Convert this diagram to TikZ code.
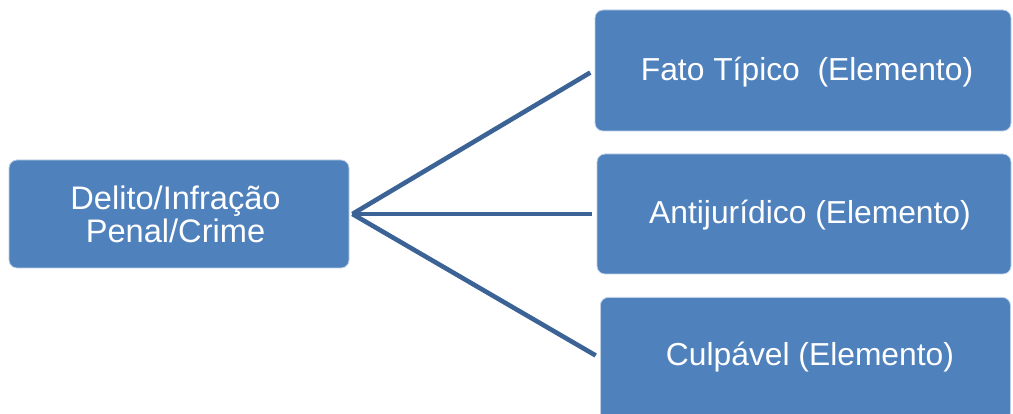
\documentclass[tikz,border=0pt]{standalone}
\usepackage{fontspec}
\setmainfont{Liberation Sans}
\definecolor{boxfill}{RGB}{79,129,189}
\definecolor{boxedge}{RGB}{190,208,230}
\definecolor{linkcol}{RGB}{60,99,150}
\begin{document}
\begin{tikzpicture}[x=1pt,y=-1pt,
  box/.style={rectangle, rounded corners=8pt, fill=boxfill, draw=boxedge, line width=0.8pt, inner sep=0pt},
  lbl/.style={text=white, align=center, inner sep=0pt, font=\fontsize{31.8}{33}\selectfont},
  link/.style={draw=linkcol, line width=4.6pt, shorten >=5pt}]
\useasboundingbox (0,0) rectangle (1013,414);
\node[box, minimum width=340pt, minimum height=108pt] (L) at (179,214) {};
\node[lbl, font=\fontsize{32.6}{33}\selectfont] (Lt) at (175.5,214) {Delito/Infração\\Penal/Crime};
\node[box, minimum width=416pt, minimum height=121pt] (A) at (803,70.5) {};
\node[lbl] (At) at (807,72) {Fato Típico\ \ (Elemento)};
\node[box, minimum width=414pt, minimum height=120pt] (B) at (804,214) {};
\node[lbl] (Bt) at (810,215) {Antijurídico (Elemento)};
\node[box, minimum width=410pt, minimum height=124pt, anchor=north west] (C) at (600,297) {};
\node[lbl] (Ct) at (810,357) {Culpável (Elemento)};
\coordinate (hub) at ([xshift=3pt]L.east);
\draw[link] (hub) -- (A.west |- 0,70);
\draw[link] (hub) -- (B.west);
\draw[link] (hub) -- (C.west |- 0,358);
\end{tikzpicture}
\end{document}
